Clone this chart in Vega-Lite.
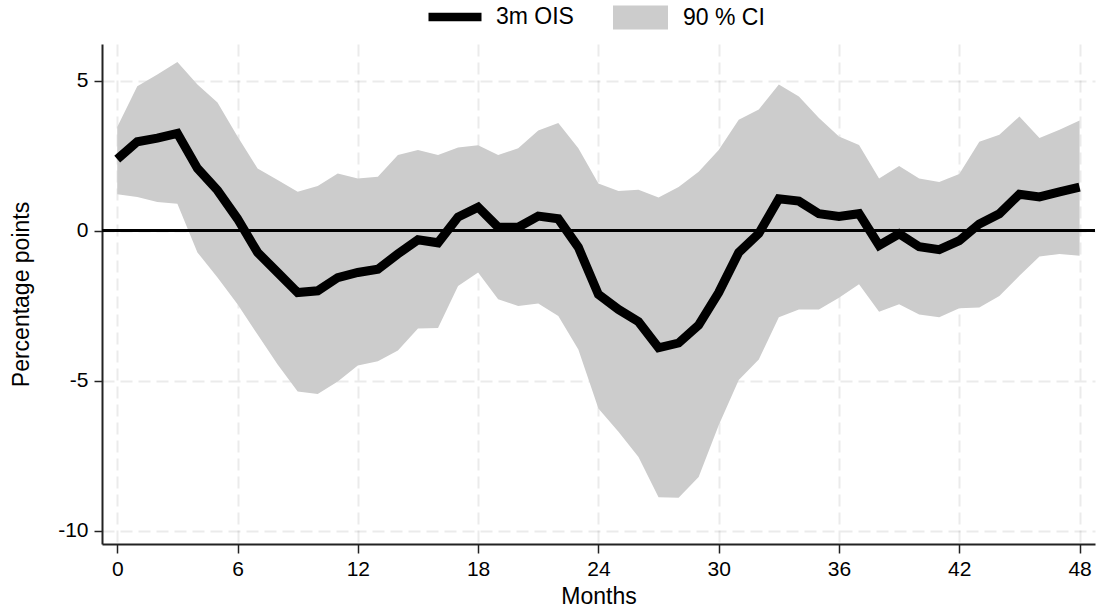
{
  "$schema": "https://vega.github.io/schema/vega-lite/v6.json",
  "width": 993,
  "height": 500,
  "autosize": {"type": "none"},
  "padding": {"left": 102, "top": 44, "right": 3, "bottom": 70},
  "background": "white",
  "config": {
    "view": {"stroke": null},
    "font": "Liberation Sans",
    "axis": {
      "grid": true,
      "gridColor": "black",
      "gridOpacity": 0.08,
      "gridDash": [12, 6],
      "gridWidth": 2,
      "domainColor": "#222222",
      "domainWidth": 2,
      "tickColor": "#222222",
      "tickWidth": 1.5,
      "tickSize": 9,
      "labelColor": "black",
      "labelFont": "Liberation Sans",
      "labelFontSize": 21,
      "titleColor": "black",
      "titleFont": "Liberation Sans",
      "titleFontSize": 23,
      "titleFontWeight": "normal",
      "zindex": 1
    },
    "legend": {
      "labelColor": "black",
      "labelFont": "Liberation Sans",
      "labelFontSize": 23,
      "padding": 0
    }
  },
  "data": {
    "values": [
      {"month": 0, "ois": 2.38, "lo": 1.21, "hi": 3.45},
      {"month": 1, "ois": 2.96, "lo": 1.12, "hi": 4.81},
      {"month": 2, "ois": 3.08, "lo": 0.95, "hi": 5.2},
      {"month": 3, "ois": 3.24, "lo": 0.89, "hi": 5.62},
      {"month": 4, "ois": 2.07, "lo": -0.73, "hi": 4.87},
      {"month": 5, "ois": 1.34, "lo": -1.57, "hi": 4.27},
      {"month": 6, "ois": 0.39, "lo": -2.46, "hi": 3.13},
      {"month": 7, "ois": -0.73, "lo": -3.47, "hi": 2.07},
      {"month": 8, "ois": -1.4, "lo": -4.47, "hi": 1.68},
      {"month": 9, "ois": -2.07, "lo": -5.37, "hi": 1.29},
      {"month": 10, "ois": -2.01, "lo": -5.45, "hi": 1.48},
      {"month": 11, "ois": -1.57, "lo": -5.03, "hi": 1.9},
      {"month": 12, "ois": -1.4, "lo": -4.5, "hi": 1.73},
      {"month": 13, "ois": -1.29, "lo": -4.36, "hi": 1.79},
      {"month": 14, "ois": -0.78, "lo": -4.0, "hi": 2.52},
      {"month": 15, "ois": -0.31, "lo": -3.27, "hi": 2.68},
      {"month": 16, "ois": -0.41, "lo": -3.25, "hi": 2.52},
      {"month": 17, "ois": 0.45, "lo": -1.85, "hi": 2.77},
      {"month": 18, "ois": 0.78, "lo": -1.4, "hi": 2.84},
      {"month": 19, "ois": 0.11, "lo": -2.29, "hi": 2.52},
      {"month": 20, "ois": 0.11, "lo": -2.52, "hi": 2.74},
      {"month": 21, "ois": 0.48, "lo": -2.43, "hi": 3.33},
      {"month": 22, "ois": 0.39, "lo": -2.85, "hi": 3.58},
      {"month": 23, "ois": -0.56, "lo": -3.97, "hi": 2.74},
      {"month": 24, "ois": -2.13, "lo": -5.93, "hi": 1.57},
      {"month": 25, "ois": -2.63, "lo": -6.71, "hi": 1.32},
      {"month": 26, "ois": -3.04, "lo": -7.55, "hi": 1.36},
      {"month": 27, "ois": -3.91, "lo": -8.89, "hi": 1.1},
      {"month": 28, "ois": -3.75, "lo": -8.91, "hi": 1.45},
      {"month": 29, "ois": -3.15, "lo": -8.22, "hi": 1.96},
      {"month": 30, "ois": -2.07, "lo": -6.49, "hi": 2.68},
      {"month": 31, "ois": -0.73, "lo": -4.98, "hi": 3.69},
      {"month": 32, "ois": -0.1, "lo": -4.3, "hi": 4.03},
      {"month": 33, "ois": 1.06, "lo": -2.89, "hi": 4.87},
      {"month": 34, "ois": 0.98, "lo": -2.63, "hi": 4.47},
      {"month": 35, "ois": 0.56, "lo": -2.63, "hi": 3.75},
      {"month": 36, "ois": 0.47, "lo": -2.24, "hi": 3.13},
      {"month": 37, "ois": 0.56, "lo": -1.79, "hi": 2.85},
      {"month": 38, "ois": -0.5, "lo": -2.71, "hi": 1.73},
      {"month": 39, "ois": -0.11, "lo": -2.46, "hi": 2.15},
      {"month": 40, "ois": -0.54, "lo": -2.8, "hi": 1.73},
      {"month": 41, "ois": -0.64, "lo": -2.89, "hi": 1.62},
      {"month": 42, "ois": -0.34, "lo": -2.59, "hi": 1.88},
      {"month": 43, "ois": 0.22, "lo": -2.57, "hi": 2.96},
      {"month": 44, "ois": 0.56, "lo": -2.18, "hi": 3.19},
      {"month": 45, "ois": 1.21, "lo": -1.51, "hi": 3.8},
      {"month": 46, "ois": 1.12, "lo": -0.87, "hi": 3.08},
      {"month": 47, "ois": 1.29, "lo": -0.78, "hi": 3.36},
      {"month": 48, "ois": 1.45, "lo": -0.84, "hi": 3.67}
    ]
  },
  "layer": [
    {
      "mark": {"type": "area", "opacity": 1},
      "encoding": {
        "x": {
          "field": "month",
          "type": "quantitative",
          "scale": {"domain": [-0.76, 48.77], "nice": false, "zero": false},
          "axis": {
            "title": "Months",
            "values": [0, 6, 12, 18, 24, 30, 36, 42, 48],
            "labelPadding": 5,
            "titlePadding": 6
          }
        },
        "y": {
          "field": "lo",
          "type": "quantitative",
          "scale": {"domain": [-10.45, 6.217], "nice": false, "zero": false},
          "axis": {
            "title": "Percentage points",
            "values": [-10, -5, 0, 5],
            "labelExpr": "datum.value + ''",
            "tickSize": 8,
            "labelPadding": 6,
            "titlePadding": 24
          }
        },
        "y2": {"field": "hi"},
        "fill": {
          "datum": "90 % CI",
          "scale": {"range": ["#cccccc"]},
          "legend": {
            "title": null,
            "orient": "none",
            "legendX": 511,
            "legendY": -54,
            "symbolType": "M-1,-0.436H1V0.436H-1Z",
            "symbolSize": 3025,
            "symbolStrokeWidth": 0,
            "symbolOpacity": 1,
            "labelOffset": 15
          }
        }
      }
    },
    {
      "mark": {"type": "rule", "color": "black", "strokeWidth": 1.5},
      "encoding": {"y": {"datum": 0}}
    },
    {
      "mark": {"type": "line", "strokeWidth": 9, "strokeJoin": "miter"},
      "encoding": {
        "x": {"field": "month", "type": "quantitative"},
        "y": {"field": "ois", "type": "quantitative"},
        "stroke": {
          "datum": "3m OIS",
          "scale": {"range": ["black"]},
          "legend": {
            "title": null,
            "orient": "none",
            "legendX": 322,
            "legendY": -58,
            "symbolType": "stroke",
            "symbolSize": 2809,
            "symbolStrokeWidth": 8.5,
            "labelOffset": 10
          }
        }
      }
    }
  ]
}
